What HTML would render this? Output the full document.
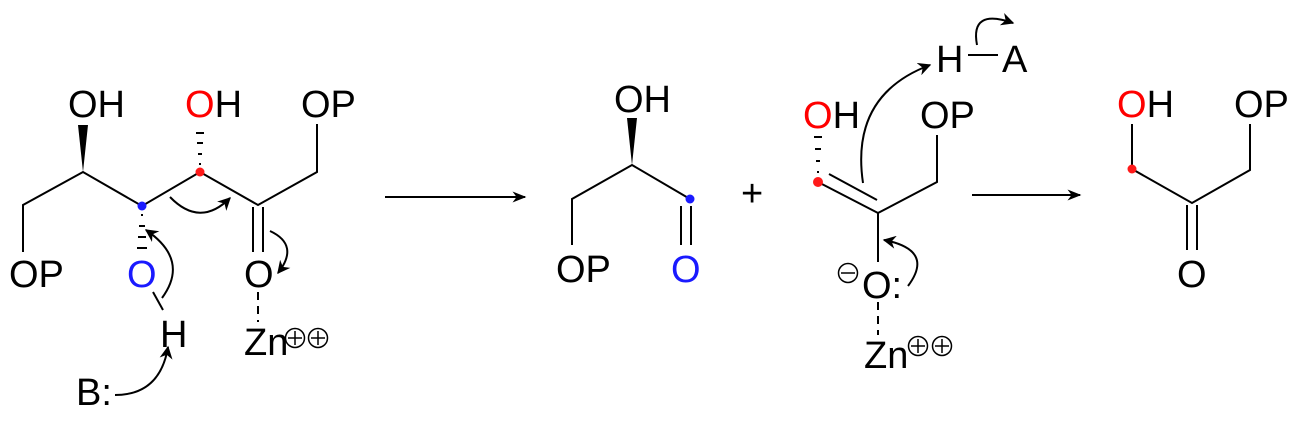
<!DOCTYPE html>
<html><head><meta charset="utf-8"><style>
html,body{margin:0;padding:0;background:#fff;}
svg{display:block;}
text{font-family:"Liberation Sans",Arial,sans-serif;font-size:38px;fill:#000;}
</style></head><body>
<svg width="1300" height="424" viewBox="0 0 1300 424" xmlns="http://www.w3.org/2000/svg">
<defs>
<marker id="ah" viewBox="0 0 10 10" refX="9" refY="5" markerWidth="13" markerHeight="13" orient="auto" markerUnits="userSpaceOnUse">
<path d="M0,0 L10,5 L0,10 L3,5 Z" fill="#000"/></marker>
<marker id="ah2" viewBox="0 0 10 10" refX="9" refY="5" markerWidth="14" markerHeight="14" orient="auto" markerUnits="userSpaceOnUse">
<path d="M0,1 L10,5 L0,9 L3,5 Z" fill="#000"/></marker>
</defs>
<g stroke="#000" stroke-width="2" fill="none">
<polyline points="23,252 23,205 83,172 142,206 200,172 258,205 317,172 317,124"/>
<line x1="253" y1="207" x2="253" y2="252"/><line x1="263" y1="207" x2="263" y2="252"/>
<line x1="258" y1="292" x2="258" y2="322" stroke-dasharray="8,6"/>
<line x1="153" y1="292" x2="163" y2="310"/>
<polyline points="572,245 572,199 632,165 690,199"/>
<line x1="681" y1="206" x2="681" y2="245"/><line x1="691" y1="206" x2="691" y2="245"/>
<line x1="818" y1="182" x2="878" y2="213"/><line x1="829" y1="174" x2="877" y2="200"/>
<polyline points="878,262 878,213 937,182 937,135"/>
<line x1="878" y1="302" x2="878" y2="335" stroke-dasharray="8,6"/>
<line x1="968" y1="55" x2="998" y2="55"/>
<polyline points="1132,124 1132,169 1192,203 1250,170 1250,124"/>
<line x1="1187" y1="205" x2="1187" y2="250"/><line x1="1197" y1="205" x2="1197" y2="250"/>
<line x1="385" y1="197" x2="525" y2="197" marker-end="url(#ah2)"/>
<line x1="972" y1="195" x2="1080" y2="195" marker-end="url(#ah2)"/>
<path d="M170,197 Q200,228 230,198" marker-end="url(#ah)"/>
<path d="M162,298 Q190,260 146,230" marker-end="url(#ah)"/>
<path d="M270,231 Q300,245 278,273" marker-end="url(#ah)"/>
<path d="M115,395 Q160,395 168,347" marker-end="url(#ah)"/>
<path d="M863,183 Q850,95 930,65" marker-end="url(#ah)"/>
<path d="M908,286 Q935,250 884,240" marker-end="url(#ah)"/>
<path d="M977,45 Q970,8 1013,23" marker-end="url(#ah)"/>
</g>
<polygon points="83,172 78,125 88,125" fill="#000"/>
<polygon points="632,165 627,118 637,118" fill="#000"/>
<g stroke="#000" stroke-width="2">
<line x1="199" y1="164" x2="201" y2="164"/><line x1="198" y1="154" x2="202" y2="154"/><line x1="197" y1="143" x2="203" y2="143"/><line x1="196" y1="133" x2="204" y2="133"/>
<line x1="141" y1="215" x2="143" y2="215"/><line x1="139" y1="226" x2="145" y2="226"/><line x1="138" y1="237" x2="146" y2="237"/><line x1="137" y1="248" x2="147" y2="248"/>
<line x1="817" y1="172" x2="819" y2="172"/><line x1="816" y1="161" x2="820" y2="161"/><line x1="815" y1="149" x2="821" y2="149"/><line x1="814" y1="137" x2="822" y2="137"/>
</g>
<circle cx="142" cy="206" r="4.5" fill="#1a1aff"/>
<circle cx="200" cy="172" r="4.5" fill="#ff1a1a"/>
<circle cx="690" cy="199" r="4.5" fill="#1a1aff"/>
<circle cx="818" cy="182" r="5" fill="#ff1a1a"/>
<circle cx="1132" cy="169" r="4.5" fill="#ff1a1a"/>
<text x="68" y="117">OH</text>
<text x="185" y="117"><tspan style="fill:#ff0000">O</tspan>H</text>
<text x="301" y="117">OP</text>
<text x="9" y="287">OP</text>
<text x="127" y="287" style="fill:#1a1aff">O</text>
<text x="244" y="287">O</text>
<text x="160" y="347">H</text>
<text x="76" y="405">B:</text>
<text x="244" y="355">Zn</text>
<g stroke="#000" stroke-width="1.5" fill="none">
<circle cx="295" cy="338" r="9.5"/><line x1="288" y1="338" x2="302" y2="338"/><line x1="295" y1="331" x2="295" y2="345"/>
<circle cx="318" cy="338" r="9.5"/><line x1="311" y1="338" x2="325" y2="338"/><line x1="318" y1="331" x2="318" y2="345"/>
<circle cx="848" cy="273" r="9.5"/><line x1="841" y1="273" x2="855" y2="273"/>
<circle cx="918" cy="346" r="9.5"/><line x1="911" y1="346" x2="925" y2="346"/><line x1="918" y1="339" x2="918" y2="353"/>
<circle cx="942" cy="346" r="9.5"/><line x1="935" y1="346" x2="949" y2="346"/><line x1="942" y1="339" x2="942" y2="353"/>
</g>
<text x="614" y="112">OH</text>
<text x="556" y="282">OP</text>
<text x="671" y="282" style="fill:#1a1aff">O</text>
<text x="741" y="206">+</text>
<text x="803" y="128"><tspan style="fill:#ff0000">O</tspan>H</text>
<text x="920" y="128">OP</text>
<text x="862" y="298">O:</text>
<text x="864" y="368">Zn</text>
<text x="936" y="72">H</text>
<text x="1002" y="72">A</text>
<text x="1117" y="117"><tspan style="fill:#ff0000">O</tspan>H</text>
<text x="1234" y="117">OP</text>
<text x="1177" y="287">O</text>
</svg>
</body></html>
